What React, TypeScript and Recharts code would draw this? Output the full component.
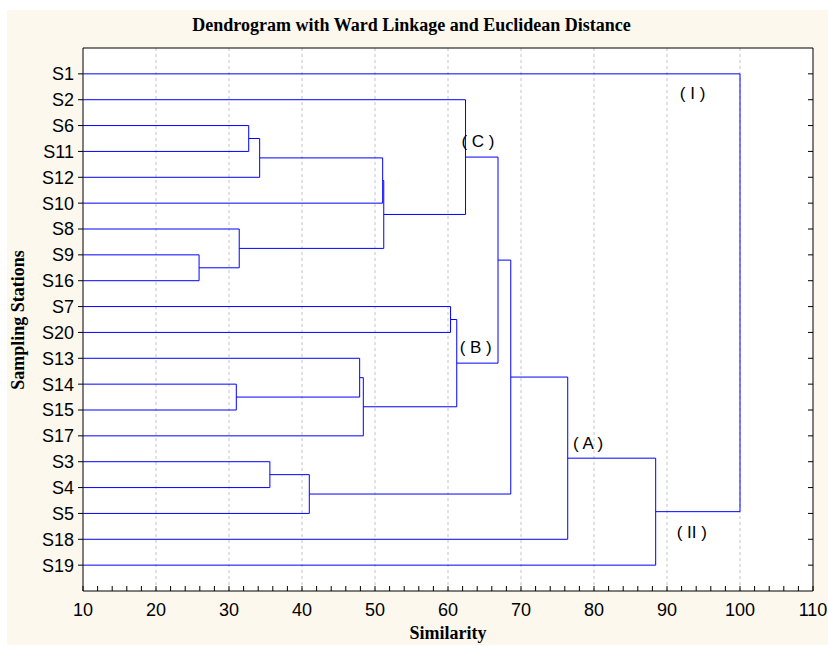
import React from 'react';
import {
  ComposedChart,
  Scatter,
  XAxis,
  YAxis,
  ReferenceLine,
  ReferenceDot,
  CartesianGrid,
} from 'recharts';

// leaf order from top to bottom
const leaves = [
  'S1', 'S2', 'S6', 'S11', 'S12', 'S10', 'S8', 'S9', 'S16', 'S7',
  'S20', 'S13', 'S14', 'S15', 'S17', 'S3', 'S4', 'S5', 'S18', 'S19',
];

// merge i joins mergeLeft[i] and mergeRight[i] at mergeHeight[i]; 'mN' = result of merge N
const mergeLeft = ['S6', 'm0', 'm1', 'S9', 'S8', 'm2', 'S2', 'S7', 'S14', 'S13', 'm9', 'm7', 'm6', 'S3', 'm13', 'm12', 'm15', 'm16', 'S1'];
const mergeRight = ['S11', 'S12', 'S10', 'S16', 'm3', 'm4', 'm5', 'S20', 'S15', 'm8', 'S17', 'm10', 'm11', 'S4', 'S5', 'm14', 'S18', 'S19', 'm17'];
const mergeHeight = [32.7, 34.2, 51.05, 25.9, 31.4, 51.2, 62.4, 60.35, 31.0, 47.9, 48.4, 61.2, 66.85, 35.6, 41.0, 68.6, 76.4, 88.45, 100.0];

const xMajorTicks = [10, 20, 30, 40, 50, 60, 70, 80, 90, 100, 110];
const xMinorTicks = [
  10, 12, 14, 16, 18, 20, 22, 24, 26, 28, 30, 32, 34, 36, 38, 40, 42, 44, 46, 48, 50,
  52, 54, 56, 58, 60, 62, 64, 66, 68, 70, 72, 74, 76, 78, 80, 82, 84, 86, 88, 90,
  92, 94, 96, 98, 100, 102, 104, 106, 108, 110,
];
const gridValues = [20, 30, 40, 50, 60, 70, 80, 90, 100];
const rowTicks = [1, 2, 3, 4, 5, 6, 7, 8, 9, 10, 11, 12, 13, 14, 15, 16, 17, 18, 19, 20];

// cluster annotations
const clusterNames = ['( I )', '( C )', '( B )', '( A )', '( II )'];
const clusterX = [93.5, 64.1, 63.8, 79.2, 93.4];
const clusterY = [1.74, 3.6, 11.55, 15.27, 18.7];

const X_MIN = 10;
const LINE = '#0000ff';
const SANS = '"Liberation Sans", Arial, sans-serif';
const SERIF = '"Liberation Serif", "Times New Roman", serif';

type Pt = { x: number; y: number };

const nodePos: Record<string, Pt> = {};
leaves.forEach((name, i) => {
  nodePos[name] = { x: X_MIN, y: i + 1 };
});
const links: Pt[][] = mergeHeight.map((h, i) => {
  const a = nodePos[mergeLeft[i]];
  const b = nodePos[mergeRight[i]];
  nodePos['m' + i] = { x: h, y: (a.y + b.y) / 2 };
  return [
    { x: a.x, y: a.y },
    { x: h, y: a.y },
    { x: h, y: b.y },
    { x: b.x, y: b.y },
  ];
});

const noShape = () => <g />;
const noLabel = () => '';
const tickStyle = { fill: '#000', fontSize: 18, fontFamily: SANS };

export default function App() {
  return (
    <div style={{ position: 'absolute', left: 0, top: 0, width: 828, height: 646, background: '#fff' }}>
      <div style={{ position: 'absolute', left: 7, top: 10, width: 821, height: 635, background: '#fcf8ee' }} />
      <div
        style={{
          position: 'absolute', left: 0, top: 16, width: 823, textAlign: 'center',
          fontFamily: SERIF, fontWeight: 'bold', fontSize: 18, lineHeight: '18px', color: '#000',
        }}
      >
        Dendrogram with Ward Linkage and Euclidean Distance
      </div>
      <div
        style={{
          position: 'absolute', left: 18, top: 320, transform: 'translate(-50%, -50%) rotate(-90deg)',
          whiteSpace: 'nowrap', fontFamily: SERIF, fontWeight: 'bold', fontSize: 18, lineHeight: '18px', color: '#000',
        }}
      >
        Sampling Stations
      </div>
      <div
        style={{
          position: 'absolute', left: 83, top: 624, width: 730, textAlign: 'center',
          fontFamily: SERIF, fontWeight: 'bold', fontSize: 18, lineHeight: '18px', color: '#000',
        }}
      >
        Similarity
      </div>
      <div style={{ position: 'absolute', left: 0, top: 0 }}>
        <ComposedChart width={828} height={646} margin={{ top: 47, right: 14, bottom: 0, left: 23 }}>
          <CartesianGrid xAxisId="b" yAxisId="l" fill="#ffffff" horizontal={false} vertical={false} />
          <XAxis
            xAxisId="b"
            dataKey="x"
            type="number"
            domain={[10, 110]}
            ticks={xMinorTicks}
            interval={0}
            tickFormatter={(v: number) => (xMajorTicks.includes(v) ? String(v) : '')}
            tickSize={-5}
            tickMargin={17}
            height={55}
            axisLine={{ stroke: '#000' }}
            tickLine={{ stroke: '#000' }}
            tick={tickStyle}
          />
          <XAxis
            xAxisId="t"
            orientation="top"
            type="number"
            domain={[10, 110]}
            allowDataOverflow
            ticks={xMinorTicks}
            interval={0}
            tickSize={-5}
            height={1}
            tickFormatter={noLabel}
            axisLine={{ stroke: '#000' }}
            tickLine={{ stroke: '#000' }}
          />
          <YAxis
            yAxisId="l"
            dataKey="y"
            type="number"
            domain={[0, 21]}
            reversed
            ticks={rowTicks}
            interval={0}
            tickFormatter={(v: number) => leaves[v - 1] ?? ''}
            tickSize={5}
            tickMargin={4}
            width={60}
            axisLine={{ stroke: '#000' }}
            tickLine={{ stroke: '#000' }}
            tick={tickStyle}
          />
          <YAxis
            yAxisId="r"
            orientation="right"
            type="number"
            domain={[0, 21]}
            allowDataOverflow
            reversed
            ticks={rowTicks}
            interval={0}
            tickSize={-5}
            width={1}
            tickFormatter={noLabel}
            axisLine={{ stroke: '#000' }}
            tickLine={{ stroke: '#000' }}
          />
          {gridValues.map((v) => (
            <ReferenceLine
              key={'g' + v}
              xAxisId="b"
              yAxisId="l"
              x={v}
              stroke="#c4c4c4"
              strokeDasharray="3 3"
            />
          ))}
          {links.map((pts, i) => (
            <Scatter
              key={'link' + i}
              xAxisId="b"
              yAxisId="l"
              data={pts}
              line={{ stroke: LINE, strokeWidth: 1 }}
              lineType="joint"
              shape={noShape}
              fill={LINE}
              isAnimationActive={false}
            />
          ))}
          {clusterNames.map((name, i) => (
            <ReferenceDot
              key={name}
              xAxisId="b"
              yAxisId="l"
              x={clusterX[i]}
              y={clusterY[i]}
              r={0}
              fill="none"
              stroke="none"
              label={{ value: name, position: 'center', fill: '#000', fontSize: 17, fontFamily: SANS }}
            />
          ))}
        </ComposedChart>
      </div>
    </div>
  );
}
